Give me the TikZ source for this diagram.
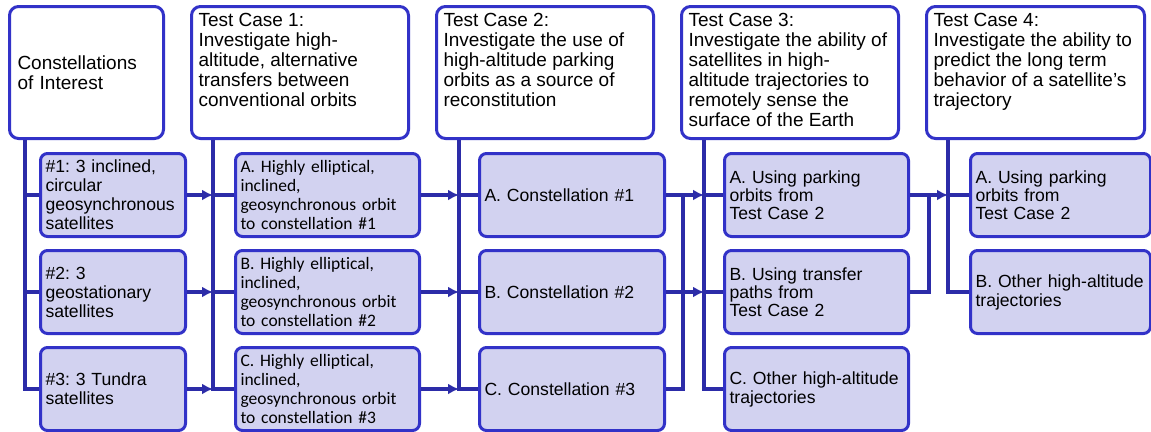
\documentclass[tikz,border=0pt]{standalone}
\usepackage{fontspec}
\setmainfont{Liberation Sans}
\newfontfamily\calibri[Ligatures={NoCommon}]{Carlito}
\usetikzlibrary{positioning,arrows.meta,calc}
\usepackage{xcolor}
\definecolor{boxblue}{RGB}{50,50,200}
\definecolor{lineblue}{RGB}{44,44,168}
\definecolor{boxfill}{RGB}{210,210,240}
\frenchspacing

\begin{document}
\begin{tikzpicture}[x=1pt,y=-1pt]

	\tikzstyle{headrect}=[draw=boxblue, fill=white, line width=3pt, rounded corners=9pt, rectangle, align=left, minimum height=132pt, inner xsep=7pt, inner ysep=7pt, font=\fontsize{19}{20}\selectfont];
	\tikzstyle{subrect}=[draw=boxblue, fill=boxfill, line width=3pt, rounded corners=7pt, rectangle, align=left, minimum height=83pt, inner xsep=5pt, inner ysep=2pt, font=\fontsize{17.6}{19}\selectfont];
	\tikzstyle{conn}=[draw=lineblue, line width=3.2pt];
	\tikzstyle{arr}=[conn, -{Latex[length=11pt,width=11pt]}];
    \begin{scope}

    	\useasboundingbox (0,0) rectangle (1151,431);

    	% column headers
    	\node (interest) at (8,5) [headrect, anchor=north west, text width=138pt, inner xsep=8pt]{Constellations\\of Interest};
    	\node (tc_one) [right = 25pt of interest, headrect]{\parbox[t][118pt][t]{203pt}{Test Case 1:\\Investigate high-\\altitude, alternative\\transfers between\\conventional orbits}};
    	\node (tc_two) [right = 25pt of tc_one, headrect]{\parbox[t][118pt][t]{203pt}{Test Case 2:\\Investigate the use of\\high-altitude parking\\orbits as a source of\\reconstitution}};
    	\node (tc_three) [right = 25pt of tc_two, headrect]{\parbox[t][118pt][t]{203pt}{Test Case 3:\\Investigate the ability of\\satellites in high-\\altitude trajectories to\\remotely sense the\\surface of the Earth}};
    	\node (tc_four) [right = 25pt of tc_three, headrect]{\parbox[t][118pt][t]{204pt}{Test Case 4:\\Investigate the ability to\\predict the long term\\behavior of a satellite's\\trajectory}};

    	% constellations
    	\node (sat_one) at (39,152) [subrect, anchor=north west, text width=135pt]{\#1: 3 inclined,\\circular\\geosynchronous\\satellites};
    	\node (sat_two) [below = 11pt of sat_one, subrect, text width=135pt]{\#2: 3\\geostationary\\satellites};
    	\node (sat_three) [below = 11pt of sat_two, subrect, text width=135pt]{\#3: 3 Tundra\\satellites};

    	% test case 1
    	\node (orbit_a) at (234,152) [subrect, anchor=north west, text width=174pt, font=\calibri\fontsize{17.5}{19}\selectfont]{A. Highly elliptical,\\inclined,\\geosynchronous orbit\\to constellation \#1};
    	\node (orbit_b) [below = 11pt of orbit_a, subrect, text width=174pt, font=\calibri\fontsize{17.5}{19}\selectfont]{B. Highly elliptical,\\inclined,\\geosynchronous orbit\\to constellation \#2};
    	\node (orbit_c) [below = 11pt of orbit_b, subrect, text width=174pt, font=\calibri\fontsize{17.5}{19}\selectfont]{C. Highly elliptical,\\inclined,\\geosynchronous orbit\\to constellation \#3};

    	% test case 2
    	\node (recon_a) at (478,152) [subrect, anchor=north west, text width=175pt]{A. Constellation \#1};
    	\node (recon_b) [below = 11pt of recon_a, subrect, text width=175pt]{B. Constellation \#2};
    	\node (recon_c) [below = 11pt of recon_b, subrect, text width=175pt]{C. Constellation \#3};

    	% test case 3
    	\node (sense_a) at (723,152) [subrect, anchor=north west, text width=174pt, font=\fontsize{17.6}{18}\selectfont]{A. Using parking\\orbits from\\Test Case 2};
    	\node (sense_b) [below = 11pt of sense_a, subrect, text width=174pt, font=\fontsize{17.6}{18}\selectfont]{B. Using transfer\\paths from\\Test Case 2};
    	\node (sense_c) [below = 11pt of sense_b, subrect, text width=174pt]{C. Other high-altitude\\trajectories};

    	% test case 4
    	\node (predict_a) at (969,152) [subrect, anchor=north west, text width=170pt, font=\fontsize{17.6}{18}\selectfont]{A. Using parking\\orbits from\\Test Case 2};
    	\node (predict_b) [below = 11pt of predict_a, subrect, text width=170pt]{B. Other high-altitude\\trajectories};

    	% trunks under the headers
    	\coordinate (trunk_zero) at ([xshift=17pt]interest.south west);
    	\coordinate (trunk_one) at ([xshift=23pt]tc_one.south west);
    	\coordinate (trunk_two) at ([xshift=24pt]tc_two.south west);
    	\coordinate (trunk_three) at ([xshift=24pt]tc_three.south west);
    	\coordinate (trunk_four) at ([xshift=23pt]tc_four.south west);
    	\coordinate (merge_two) at ([xshift=17pt]recon_a.east);
    	\coordinate (merge_three) at ([xshift=19pt]sense_a.east);

    	\draw[conn] (trunk_zero) |- (sat_three.west);
    	\draw[conn] (trunk_zero |- sat_one.west) -- (sat_one.west);
    	\draw[conn] (trunk_zero |- sat_two.west) -- (sat_two.west);

    	\draw[conn] (trunk_one) |- (orbit_c.west);
    	\draw[conn] (trunk_one |- orbit_a.west) -- (orbit_a.west);
    	\draw[conn] (trunk_one |- orbit_b.west) -- (orbit_b.west);
    	\draw[arr] (sat_one.east) -- (sat_one.east -| trunk_one);
    	\draw[arr] (sat_two.east) -- (sat_two.east -| trunk_one);
    	\draw[arr] (sat_three.east) -- (sat_three.east -| trunk_one);

    	\draw[conn] (trunk_two) |- (recon_c.west);
    	\draw[conn] (trunk_two |- recon_a.west) -- (recon_a.west);
    	\draw[conn] (trunk_two |- recon_b.west) -- (recon_b.west);
    	\draw[arr] (orbit_a.east) -- (orbit_a.east -| trunk_two);
    	\draw[arr] (orbit_b.east) -- (orbit_b.east -| trunk_two);
    	\draw[arr] (orbit_c.east) -- (orbit_c.east -| trunk_two);

    	\draw[conn] (trunk_three) |- (sense_c.west);
    	\draw[conn] (trunk_three |- sense_a.west) -- (sense_a.west);
    	\draw[conn] (trunk_three |- sense_b.west) -- (sense_b.west);
    	\draw[conn] (recon_c.east) -| (merge_two);
    	\draw[arr] (recon_a.east) -- (recon_a.east -| trunk_three);
    	\draw[arr] (recon_b.east) -- (recon_b.east -| trunk_three);

    	\draw[conn] (trunk_four) |- (predict_b.west);
    	\draw[conn] (trunk_four |- predict_a.west) -- (predict_a.west);
    	\draw[conn] (sense_b.east) -| (merge_three);
    	\draw[arr] (sense_a.east) -- (sense_a.east -| trunk_four);

    \end{scope}
\end{tikzpicture}
\end{document}
